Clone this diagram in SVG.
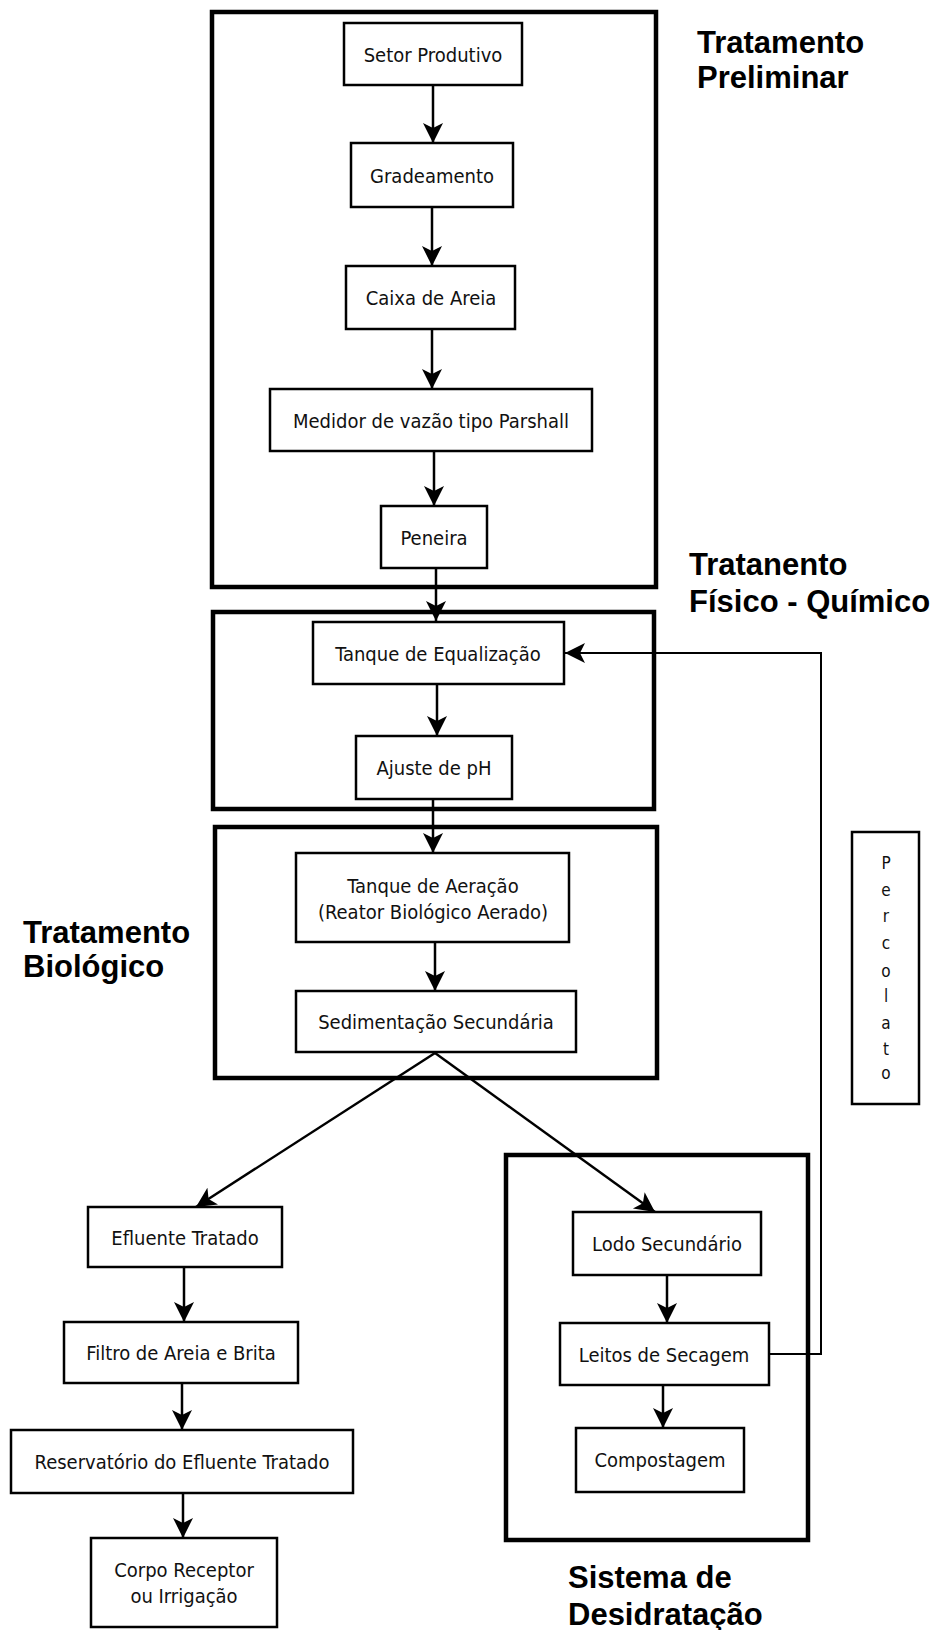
<svg xmlns="http://www.w3.org/2000/svg" width="934" height="1630" viewBox="0 0 934 1630">
  <style>
    .frame { fill: none; stroke: #000; stroke-width: 4.5; }
    .box { fill: #fff; stroke: #000; stroke-width: 2.5; }
    .lbl { font-family: "DejaVu Sans Condensed", "DejaVu Sans", sans-serif; font-stretch: condensed; font-size: 20px; fill: #111; text-anchor: middle; }
    .vert { font-family: "DejaVu Sans Condensed", "DejaVu Sans", sans-serif; font-stretch: condensed; font-size: 17px; fill: #111; text-anchor: middle; }
    .head { font-family: "Liberation Sans", Arial, sans-serif; font-weight: bold; font-size: 31px; fill: #000; }
    .flow { fill: none; stroke: #000; stroke-width: 2.5; marker-end: url(#arrow); }
    .ret { fill: none; stroke: #000; stroke-width: 2; marker-end: url(#arrow); }
  </style>
  <defs>
    <marker id="arrow" markerUnits="userSpaceOnUse" markerWidth="22" markerHeight="22" refX="20" refY="10" orient="auto">
      <path d="M0,0 L20,10 L0,20 L5,10 Z" fill="#000"/>
    </marker>
  </defs>

  <rect width="934" height="1630" fill="#fff"/>

  <!-- stage frames -->
  <g id="stage-frames">
    <rect class="frame" x="212" y="12" width="444" height="575"/>
    <rect class="frame" x="213" y="612" width="441" height="197"/>
    <rect class="frame" x="215" y="827" width="442" height="251"/>
    <rect class="frame" x="506" y="1155" width="302" height="385"/>
  </g>

  <!-- stage titles -->
  <g id="stage-titles">
    <text class="head" x="697" y="53">Tratamento</text>
    <text class="head" x="697" y="88">Preliminar</text>
    <text class="head" x="689" y="575">Tratanento</text>
    <text class="head" x="689" y="612">Físico - Químico</text>
    <text class="head" x="23" y="943">Tratamento</text>
    <text class="head" x="23" y="977">Biológico</text>
    <text class="head" x="568" y="1588">Sistema de</text>
    <text class="head" x="568" y="1625">Desidratação</text>
  </g>

  <!-- connectors -->
  <g id="connectors">
    <path class="flow" d="M433,86 L433,143"/>
    <path class="flow" d="M432,207 L432,266"/>
    <path class="flow" d="M432,329 L432,389"/>
    <path class="flow" d="M434,451 L434,506"/>
    <path class="flow" d="M436,568 L436,621"/>
    <path class="flow" d="M437,684 L437,736"/>
    <path class="flow" d="M433,799 L433,853"/>
    <path class="flow" d="M435,942 L435,991"/>
    <path class="flow" d="M435,1053 L196,1207"/>
    <path class="flow" d="M435,1053 L655,1212"/>
    <path class="flow" d="M184,1267 L184,1322"/>
    <path class="flow" d="M182,1383 L182,1430"/>
    <path class="flow" d="M183,1493 L183,1538"/>
    <path class="flow" d="M667,1275 L667,1323"/>
    <path class="flow" d="M663,1385 L663,1428"/>
    <path class="ret" d="M769,1354 L821,1354 L821,653 L565,653"/>
  </g>

  <!-- process steps -->
  <g id="setor-produtivo">
    <rect class="box" x="344" y="23" width="178" height="62"/>
    <text class="lbl" x="433" y="62">Setor Produtivo</text>
  </g>
  <g id="gradeamento">
    <rect class="box" x="351" y="143" width="162" height="64"/>
    <text class="lbl" x="432" y="183">Gradeamento</text>
  </g>
  <g id="caixa-de-areia">
    <rect class="box" x="346" y="266" width="169" height="63"/>
    <text class="lbl" x="431" y="305">Caixa de Areia</text>
  </g>
  <g id="medidor-parshall">
    <rect class="box" x="270" y="389" width="322" height="62"/>
    <text class="lbl" x="431" y="428">Medidor de vazão tipo Parshall</text>
  </g>
  <g id="peneira">
    <rect class="box" x="381" y="506" width="106" height="62"/>
    <text class="lbl" x="434" y="545">Peneira</text>
  </g>
  <g id="tanque-equalizacao">
    <rect class="box" x="313" y="622" width="251" height="62"/>
    <text class="lbl" x="438" y="661">Tanque de Equalização</text>
  </g>
  <g id="ajuste-ph">
    <rect class="box" x="356" y="736" width="156" height="63"/>
    <text class="lbl" x="434" y="775">Ajuste de pH</text>
  </g>
  <g id="tanque-aeracao">
    <rect class="box" x="296" y="853" width="273" height="89"/>
    <text class="lbl" x="433" y="893">Tanque de Aeração</text>
    <text class="lbl" x="433" y="919">(Reator Biológico Aerado)</text>
  </g>
  <g id="sedimentacao">
    <rect class="box" x="296" y="991" width="280" height="61"/>
    <text class="lbl" x="436" y="1029">Sedimentação Secundária</text>
  </g>
  <g id="efluente-tratado">
    <rect class="box" x="88" y="1207" width="194" height="60"/>
    <text class="lbl" x="185" y="1245">Efluente Tratado</text>
  </g>
  <g id="filtro">
    <rect class="box" x="64" y="1322" width="234" height="61"/>
    <text class="lbl" x="181" y="1360">Filtro de Areia e Brita</text>
  </g>
  <g id="reservatorio">
    <rect class="box" x="11" y="1430" width="342" height="63"/>
    <text class="lbl" x="182" y="1469">Reservatório do Efluente Tratado</text>
  </g>
  <g id="corpo-receptor">
    <rect class="box" x="91" y="1538" width="186" height="89"/>
    <text class="lbl" x="184" y="1577">Corpo Receptor</text>
    <text class="lbl" x="184" y="1603">ou Irrigação</text>
  </g>
  <g id="lodo-secundario">
    <rect class="box" x="573" y="1212" width="188" height="63"/>
    <text class="lbl" x="667" y="1251">Lodo Secundário</text>
  </g>
  <g id="leitos-secagem">
    <rect class="box" x="560" y="1323" width="209" height="62"/>
    <text class="lbl" x="664" y="1362">Leitos de Secagem</text>
  </g>
  <g id="compostagem">
    <rect class="box" x="576" y="1428" width="168" height="64"/>
    <text class="lbl" x="660" y="1467">Compostagem</text>
  </g>
  <g id="percolato">
    <rect class="box" x="852" y="832" width="67" height="272"/>
    <text class="vert" x="886" y="869">P</text>
    <text class="vert" x="886" y="896">e</text>
    <text class="vert" x="886" y="922">r</text>
    <text class="vert" x="886" y="949">c</text>
    <text class="vert" x="886" y="977">o</text>
    <text class="vert" x="886" y="1002">l</text>
    <text class="vert" x="886" y="1029">a</text>
    <text class="vert" x="886" y="1055">t</text>
    <text class="vert" x="886" y="1079">o</text>
  </g>
</svg>
